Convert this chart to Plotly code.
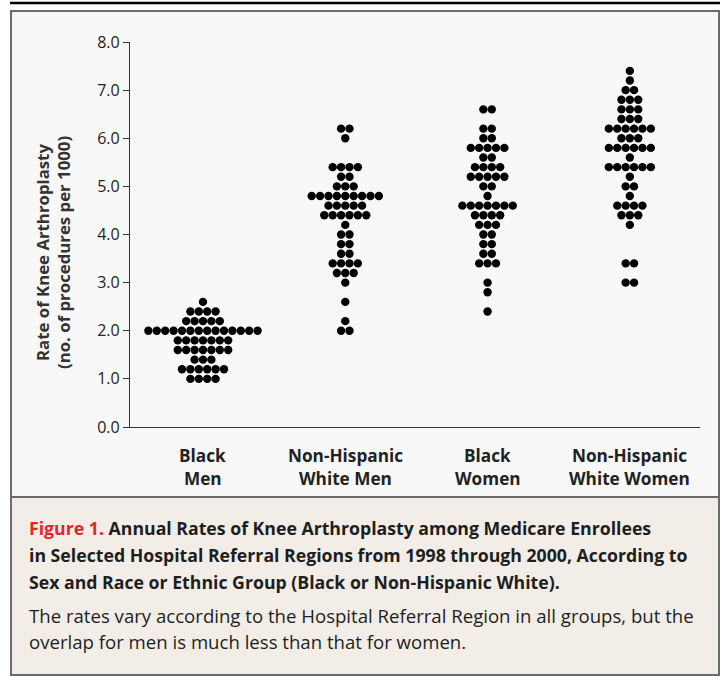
import plotly.graph_objects as go

# ---------------- data ----------------
groups = ["Black<br>Men", "Non-Hispanic<br>White Men", "Black<br>Women", "Non-Hispanic<br>White Women"]

black_men_rates = [2.6, 2.4, 2.2, 2.0, 1.8, 1.6, 1.4, 1.2, 1.0]
black_men_counts = [1, 4, 5, 14, 7, 7, 3, 6, 4]

nhw_men_rates = [6.2, 6.0, 5.4, 5.2, 5.0, 4.8, 4.6, 4.4, 4.2, 4.0, 3.8, 3.6, 3.4, 3.2, 3.0, 2.6, 2.2, 2.0]
nhw_men_counts = [2, 1, 4, 2, 3, 9, 5, 6, 1, 2, 2, 2, 4, 3, 1, 1, 1, 2]

black_women_rates = [6.6, 6.2, 6.0, 5.8, 5.6, 5.4, 5.2, 5.0, 4.8, 4.6, 4.4, 4.2, 4.0, 3.8, 3.6, 3.4, 3.0, 2.8, 2.4]
black_women_counts = [2, 2, 2, 5, 2, 4, 5, 2, 1, 7, 4, 3, 2, 2, 2, 3, 1, 1, 1]

nhw_women_rates = [7.4, 7.2, 7.0, 6.8, 6.6, 6.4, 6.2, 6.0, 5.8, 5.6, 5.4, 5.2, 5.0, 4.8, 4.6, 4.4, 4.2, 3.4, 3.0]
nhw_women_counts = [1, 1, 2, 3, 3, 3, 6, 3, 6, 1, 6, 1, 2, 1, 4, 3, 1, 2, 2]

y_ticks = [0, 1, 2, 3, 4, 5, 6, 7, 8]
y_tick_labels = ["0.0", "1.0", "2.0", "3.0", "4.0", "5.0", "6.0", "7.0", "8.0"]

series = [
    (black_men_rates, black_men_counts),
    (nhw_men_rates, nhw_men_counts),
    (black_women_rates, black_women_counts),
    (nhw_women_rates, nhw_women_counts),
]

# ---------------- layout geometry ----------------
W, H = 720, 676
L, R, T, B = 130, 700, 42, 427
X_RANGE = [-0.513, 3.493]
DOT_PX = 8.4
FONT = "Open Sans"

px_per_unit = (R - L) / (X_RANGE[1] - X_RANGE[0])
step = DOT_PX / px_per_unit


def px_x(p):
    return (p - L) / (R - L)


def px_y(p):
    return (B - p) / (B - T)


fig = go.Figure()

for gi, (rates, counts) in enumerate(series):
    xs, ys = [], []
    for r, n in zip(rates, counts):
        for k in range(n):
            xs.append(gi + (k - (n - 1) / 2) * step)
            ys.append(r)
    fig.add_trace(go.Scatter(
        x=xs, y=ys, mode="markers",
        marker=dict(size=DOT_PX, color="black", line=dict(width=0)),
        showlegend=False, hoverinfo="y",
    ))

shapes = [
    # top rule
    dict(type="line", xref="paper", yref="paper",
         x0=px_x(10), x1=px_x(720), y0=px_y(3), y1=px_y(3),
         line=dict(color="black", width=2.5)),
    # chart panel
    dict(type="rect", xref="paper", yref="paper", layer="below",
         x0=px_x(11), x1=px_x(719), y0=px_y(11), y1=px_y(497),
         fillcolor="#f8f8f8", line=dict(color="#6b6b6b", width=2)),
    # caption panel
    dict(type="rect", xref="paper", yref="paper", layer="below",
         x0=px_x(11), x1=px_x(719), y0=px_y(497), y1=px_y(675),
         fillcolor="#f2ede7", line=dict(color="#6b6b6b", width=2)),
]

annotations = []

# category labels
cat_lines = [g.split("<br>") for g in groups]
for gi, (l1, l2) in enumerate(cat_lines):
    for txt, yy in ((l1, 455), (l2, 478)):
        annotations.append(dict(
            x=gi, xref="x", y=px_y(yy), yref="paper",
            text="<b>" + txt + "</b>", showarrow=False,
            xanchor="center", yanchor="middle",
            font=dict(family=FONT, size=17.2, color="#222222"),
        ))

# y axis title (two rotated lines)
for txt, xx in (("Rate of Knee Arthroplasty", 42), ("(no. of procedures per 1000)", 63)):
    annotations.append(dict(
        x=px_x(xx), xref="paper", y=px_y(253), yref="paper",
        text="<b>" + txt + "</b>", showarrow=False, textangle=-90,
        xanchor="center", yanchor="middle",
        font=dict(family=FONT, size=16.8, color="#333333"),
    ))

# caption
caption_lines = [
    ("<b><span style='color:#e3262d'>Figure 1.</span> Annual Rates of Knee Arthroplasty among Medicare Enrollees</b>", 528),
    ("<b>in Selected Hospital Referral Regions from 1998 through 2000, According to</b>", 555),
    ("<b>Sex and Race or Ethnic Group (Black or Non-Hispanic White).</b>", 582),
    ("The rates vary according to the Hospital Referral Region in all groups, but the", 615),
    ("overlap for men is much less than that for women.", 641),
]
for i, (txt, yy) in enumerate(caption_lines):
    annotations.append(dict(
        x=px_x(27), xref="paper", y=px_y(yy), yref="paper",
        text=txt, showarrow=False, xanchor="left", yanchor="middle",
        font=dict(family=FONT, size=17.7 if i < 3 else 18.6, color="#1e1e1e"),
    ))

fig.update_layout(
    width=W, height=H,
    margin=dict(l=L, r=W - R, t=T, b=H - B, pad=0),
    paper_bgcolor="white",
    plot_bgcolor="rgba(0,0,0,0)",
    shapes=shapes,
    annotations=annotations,
    xaxis=dict(range=X_RANGE, showline=True, linecolor="#333333", linewidth=1.3,
               showticklabels=False, ticks="", showgrid=False, zeroline=False,
               fixedrange=True),
    yaxis=dict(range=[0, 8], tickvals=y_ticks, ticktext=y_tick_labels,
               showline=True, linecolor="#333333", linewidth=1.3,
               ticks="outside", ticklen=6, tickwidth=1.3, tickcolor="#333333",
               tickfont=dict(family=FONT, size=16, color="#222222"),
               showgrid=False, zeroline=False, fixedrange=True),
)

fig.write_html("out.html", config={"displayModeBar": False},
               post_script="document.body.style.margin='0';")
